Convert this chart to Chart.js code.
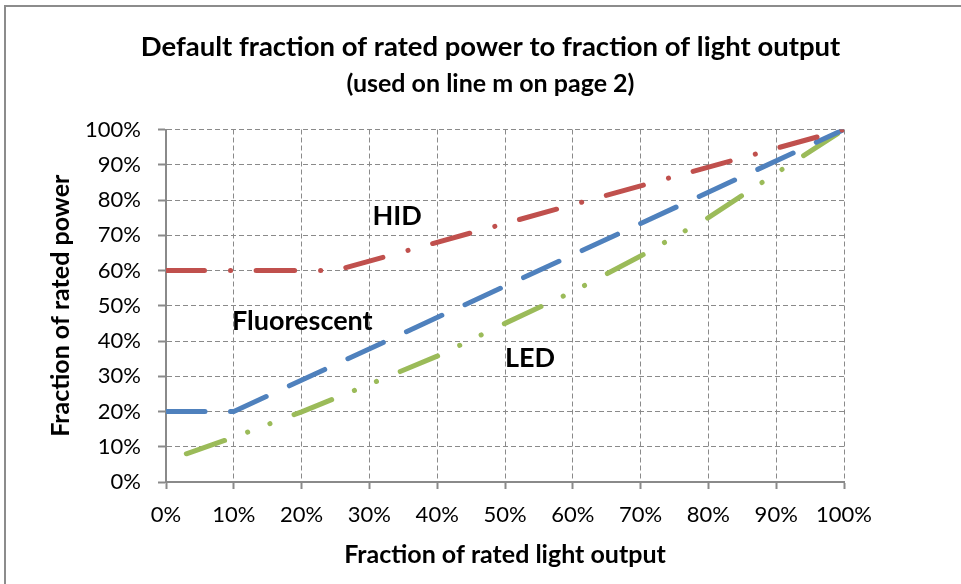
<!DOCTYPE html>
<html lang="en">
<head>
  <meta charset="UTF-8">
  <title>Default fraction of rated power to fraction of light output</title>
  <script src="https://cdn.jsdelivr.net/npm/chart.js"></script>
  <style>
    html, body {
      margin: 0;
      padding: 0;
      background: #fff;
      overflow: hidden;
    }
    #wrap {
      width: 961px;
      height: 584px;
    }
  </style>
</head>
<body>

<div id="wrap">
  <canvas id="lightChart" width="961" height="584"></canvas>
</div>

<script>
// percent ticks on both axes
const tickValues = [0, 10, 20, 30, 40, 50, 60, 70, 80, 90, 100];

// HID
const hidX = [0, 25, 100];
const hidY = [60, 60, 100];

// Fluorescent
const fluoX = [0, 10, 100];
const fluoY = [20, 20, 100];

// LED
const ledX = [3, 10, 20, 30, 40, 50, 60, 70, 80, 90, 100];
const ledY = [8, 12.7, 19.9, 27.7, 35.7, 45.0, 54.0, 64.1, 75.0, 87.6, 100];

const seriesNames = ['HID', 'Fluorescent', 'LED'];

const FONT = 'Lato, "Open Sans", sans-serif';
const gridGray = '#8a8a8a';

function toPoints(xs, ys) {
  return xs.map((x, i) => ({ x: x, y: ys[i] }));
}

// text labels next to the lines, placed in data coordinates
const lineLabels = [
  { text: 'HID', x: 34.1, y: 75.3 },
  { text: 'Fluorescent', x: 20.1, y: 45.5 },
  { text: 'LED', x: 53.7, y: 35.2 }
];

const labelPlugin = {
  id: 'lineLabels',
  afterDatasetsDraw(chart) {
    const ctx = chart.ctx;
    const xs = chart.scales.x, ys = chart.scales.y;
    ctx.save();
    ctx.font = 'bold 27px ' + FONT;
    ctx.fillStyle = '#000';
    ctx.textAlign = 'center';
    ctx.textBaseline = 'middle';
    lineLabels.forEach(l => {
      ctx.fillText(l.text, xs.getPixelForValue(l.x), ys.getPixelForValue(l.y));
    });
    ctx.restore();
  }
};

// outer frame of the chart object (top and left edges show)
const framePlugin = {
  id: 'frame',
  beforeDraw(chart) {
    const ctx = chart.ctx;
    ctx.save();
    ctx.strokeStyle = '#8c8c8c';
    ctx.lineWidth = 2;
    ctx.beginPath();
    ctx.moveTo(5, chart.height);
    ctx.lineTo(5, 6);
    ctx.lineTo(chart.width, 6);
    ctx.stroke();
    ctx.restore();
  }
};

function pctAxis(titleText, extra) {
  return Object.assign({
    type: 'linear',
    min: 0,
    max: 100,
    afterBuildTicks: s => { s.ticks = tickValues.map(v => ({ value: v })); },
    ticks: {
      callback: v => v + '%',
      color: '#000',
      font: { family: FONT, size: 22 }
    },
    grid: {
      color: gridGray,
      lineWidth: 1,
      tickColor: gridGray,
      tickWidth: 2
    },
    border: {
      display: true,
      color: gridGray,
      width: 2,
      dash: [5, 3]
    },
    title: {
      display: true,
      text: titleText,
      color: '#000',
      font: { family: FONT, size: 25, weight: 'bold' }
    }
  }, extra);
}

const xAxis = pctAxis('Fraction of rated light output', {
  afterFit: s => { s.height = 102; }
});
xAxis.grid.tickLength = 7;
xAxis.ticks.padding = 13;
xAxis.ticks.maxRotation = 0;
xAxis.title.padding = { top: 0, bottom: 14 };

const yAxis = pctAxis('Fraction of rated power', {
  afterFit: s => { s.width = 146; }
});
yAxis.grid.tickLength = 8;
yAxis.ticks.padding = 17;
yAxis.title.padding = { top: 26, bottom: 0 };

// empty spacer on the right so the plot ends where the reference's does
const rightSpacer = {
  type: 'linear',
  position: 'right',
  display: true,
  grid: { display: false, drawTicks: false },
  ticks: { display: false },
  border: { display: false },
  afterFit: s => { s.width = 117; }
};

new Chart(document.getElementById('lightChart'), {
  type: 'scatter',
  data: {
    datasets: [
      {
        label: seriesNames[0],
        data: toPoints(hidX, hidY),
        showLine: true,
        borderColor: '#C0504D',
        borderWidth: 5,
        borderDash: [38.5, 26, 0.1, 25.5],
        borderCapStyle: 'round',
        borderJoinStyle: 'round',
        pointRadius: 0,
        tension: 0
      },
      {
        label: seriesNames[1],
        data: toPoints(fluoX, fluoY),
        showLine: true,
        borderColor: '#4F81BD',
        borderWidth: 5,
        borderDash: [39, 25.5],
        borderCapStyle: 'round',
        borderJoinStyle: 'round',
        pointRadius: 0,
        tension: 0
      },
      {
        label: seriesNames[2],
        data: toPoints(ledX, ledY),
        showLine: true,
        borderColor: '#9BBB59',
        borderWidth: 5,
        borderDash: [40.5, 24.5, 0.1, 23.7, 0.1, 25.7],
        borderCapStyle: 'round',
        borderJoinStyle: 'round',
        pointRadius: 0,
        tension: 0
      }
    ]
  },
  options: {
    responsive: false,
    animation: false,
    layout: { padding: { left: 20, right: 0, top: 0, bottom: 0 } },
    scales: { x: xAxis, y: yAxis, yRight: rightSpacer },
    plugins: {
      legend: { display: false },
      tooltip: { enabled: false },
      title: {
        display: true,
        text: 'Default fraction of rated power to fraction of light output',
        color: '#000',
        font: { family: FONT, size: 27.5, weight: 'bold' },
        padding: { top: 31, bottom: 5 }
      },
      subtitle: {
        display: true,
        text: '(used on line m on page 2)',
        color: '#000',
        font: { family: FONT, size: 25, weight: 'bold' },
        padding: { top: 0, bottom: 30.5 }
      }
    }
  },
  plugins: [framePlugin, labelPlugin]
});
</script>

</body>
</html>
